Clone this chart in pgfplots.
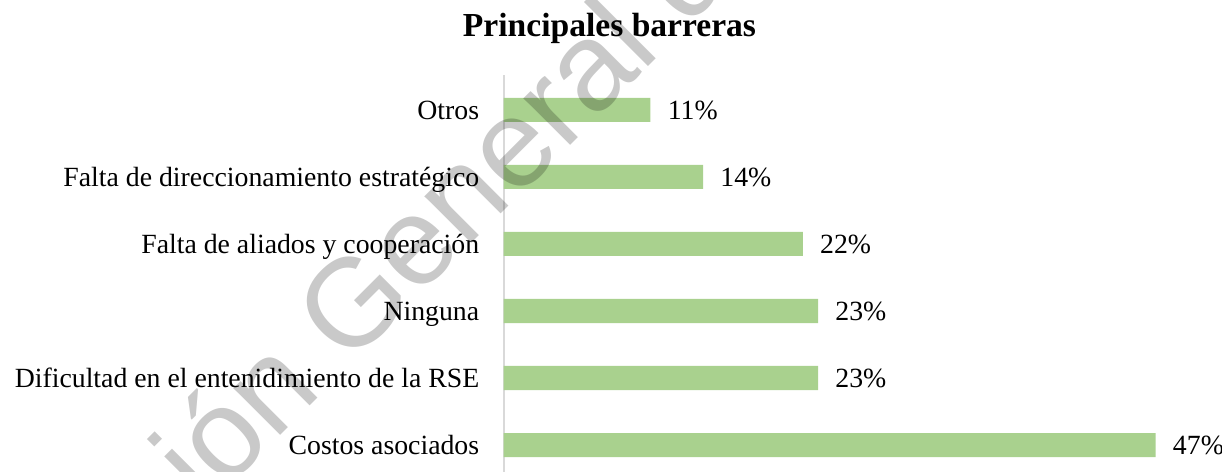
\documentclass[border=0pt]{standalone}
\usepackage{fontspec}
\setmainfont{Liberation Serif}
\newfontfamily\wmfont{Liberation Sans}
\usepackage{pgfplots}
\pgfplotsset{compat=1.18}
\definecolor{barg}{RGB}{169,209,142}
\definecolor{axg}{RGB}{217,217,217}

\begin{document}
\begin{tikzpicture}
\useasboundingbox (0,0) rectangle (527.9pt,203.9pt);
\node[anchor=base, font=\fontsize{14.5}{17}\selectfont\bfseries] at (263.3pt,188.3pt) {Principales barreras};
\begin{axis}[
  at={(217.6pt,-8.6pt)}, anchor=south west,
  x=5.992pt, y=28.944pt,
  xmin=0, xmax=50, ymin=-0.7, ymax=5.52,
  xbar, bar width=10.37pt, bar shift=0pt,
  axis x line=none,
  axis y line*=left,
  y axis line style={axg, line width=0.8pt, -},
  xtick=\empty,
  ytick={0,...,5},
  yticklabels={Costos asociados, Dificultad en el entenidimiento de la RSE, Ninguna, Falta de aliados y cooperación, Falta de direccionamiento estratégico, Otros},
  major tick length=0pt,
  yticklabel style={font=\fontsize{12}{14}\selectfont, inner sep=0pt, text height=7.9pt, text depth=0pt, anchor=east, xshift=-10.4pt},
  point meta=x,
  nodes near coords={\pgfmathprintnumber[fixed,precision=0]{\pgfplotspointmeta}\%},
  every node near coord/.append style={font=\fontsize{12}{14}\selectfont, anchor=west, inner sep=0pt, xshift=7.3pt, text height=7.9pt, text depth=0pt, text=black},
  /pgf/number format/assume math mode=true,
  clip=false,
]
\addplot[fill=barg, draw=none] coordinates {(47.0,0) (22.66,1) (22.66,2) (21.56,3) (14.37,4) (10.58,5)};
\end{axis}
\node[rotate=45, anchor=base west, inner sep=0pt, font=\wmfont\fontsize{54}{60}\selectfont, text=black, text opacity=0.21] at (69.6pt,-35.6pt) {ción General de la};
\end{tikzpicture}
\end{document}
